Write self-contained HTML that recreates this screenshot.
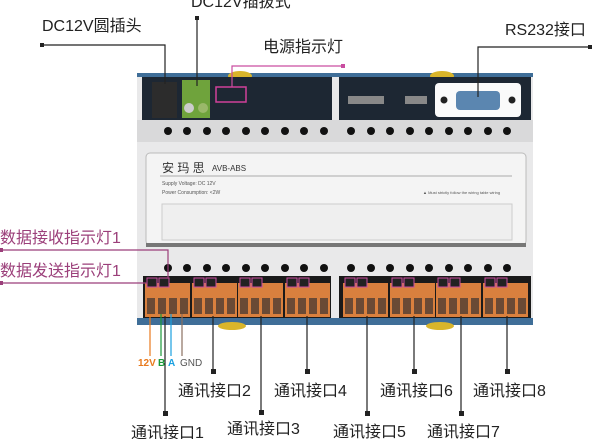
<!DOCTYPE html>
<html><head><meta charset="utf-8"><style>
html,body{margin:0;padding:0;background:#fff;width:600px;height:439px;overflow:hidden}
svg text{font-family:"Liberation Sans","Noto Sans CJK SC",sans-serif}
</style></head><body>
<svg width="600" height="439" viewBox="0 0 600 439" xmlns="http://www.w3.org/2000/svg">
<!-- device body -->
<rect x="137" y="73" width="396" height="252" fill="#e9e9ea"/>
<rect x="137" y="73" width="396" height="4" fill="#3f6e98"/>
<ellipse cx="240" cy="76" rx="12" ry="5" fill="#d9b52a"/>
<ellipse cx="442" cy="76" rx="12" ry="5" fill="#d9b52a"/>
<rect x="142" y="77" width="190" height="43" fill="#1d2733"/>
<rect x="339" y="77" width="192" height="43" fill="#1d2733"/>
<rect x="152" y="82" width="25" height="36" fill="#2c2c2c"/>
<rect x="182" y="80" width="28" height="38" fill="#6fa33c"/>
<circle cx="189" cy="108" r="5" fill="#ccc"/><circle cx="203" cy="108" r="5" fill="#9ab86a"/>
<rect x="216" y="87" width="30" height="15" fill="none" stroke="#d0409a" stroke-width="1.5"/>
<rect x="348" y="96" width="36" height="8" fill="#888"/>
<rect x="405" y="96" width="22" height="8" fill="#888"/>
<rect x="435" y="83" width="86" height="34" rx="4" fill="#fafafa"/>
<rect x="456" y="91" width="44" height="19" rx="4" fill="#5b86b0"/>
<circle cx="444" cy="100" r="3.5" fill="#222"/><circle cx="512" cy="100" r="3.5" fill="#222"/>
<rect x="137" y="120" width="396" height="22" fill="#d9d9da"/>
<g fill="#111">
<circle cx="168" cy="131" r="4"/><circle cx="187" cy="131" r="4"/><circle cx="207" cy="131" r="4"/><circle cx="226" cy="131" r="4"/><circle cx="246" cy="131" r="4"/><circle cx="265" cy="131" r="4"/><circle cx="285" cy="131" r="4"/><circle cx="304" cy="131" r="4"/><circle cx="324" cy="131" r="4"/>
<circle cx="351" cy="131" r="4"/><circle cx="371" cy="131" r="4"/><circle cx="390" cy="131" r="4"/><circle cx="410" cy="131" r="4"/><circle cx="429" cy="131" r="4"/><circle cx="449" cy="131" r="4"/><circle cx="468" cy="131" r="4"/><circle cx="488" cy="131" r="4"/><circle cx="507" cy="131" r="4"/>
</g>
<rect x="146" y="153" width="380" height="92" rx="4" fill="#f4f4f4" stroke="#bbb"/>
<rect x="146" y="243" width="380" height="4" fill="#777"/>
<text x="162" y="172" font-size="12" fill="#333">安 玛 思</text>
<text x="212" y="171" font-size="8" fill="#333">AVB-ABS</text>
<line x1="160" y1="176" x2="512" y2="176" stroke="#aaa"/>
<text x="162" y="185" font-size="5" fill="#555">Supply Voltage: DC 12V</text>
<text x="162" y="194" font-size="5" fill="#555">Power Consumption: &lt;2W</text>
<text x="423" y="194" font-size="4" fill="#555">▲ Must strictly follow the wiring table wiring</text>
<rect x="162" y="204" width="350" height="36" fill="#efefef" stroke="#ccc"/>
<g fill="#111">
<circle cx="168" cy="268" r="4"/><circle cx="187" cy="268" r="4"/><circle cx="207" cy="268" r="4"/><circle cx="226" cy="268" r="4"/><circle cx="246" cy="268" r="4"/><circle cx="265" cy="268" r="4"/><circle cx="285" cy="268" r="4"/><circle cx="304" cy="268" r="4"/><circle cx="324" cy="268" r="4"/>
<circle cx="351" cy="268" r="4"/><circle cx="371" cy="268" r="4"/><circle cx="390" cy="268" r="4"/><circle cx="410" cy="268" r="4"/><circle cx="429" cy="268" r="4"/><circle cx="449" cy="268" r="4"/><circle cx="468" cy="268" r="4"/><circle cx="488" cy="268" r="4"/><circle cx="507" cy="268" r="4"/>
</g>
<rect x="143" y="276" width="188" height="46" fill="#1a1a1a"/>
<rect x="339" y="276" width="192" height="46" fill="#1a1a1a"/>
<rect x="137" y="318" width="396" height="7" fill="#3f6e98"/>
<ellipse cx="232" cy="326" rx="14" ry="4" fill="#d9b52a"/>
<ellipse cx="440" cy="326" rx="14" ry="4" fill="#d9b52a"/>
<g id="blk">
<rect x="145" y="283" width="45" height="34" fill="#d9803e"/>
<rect x="147" y="278" width="10" height="9" fill="#222" stroke="#c94da0"/>
<rect x="159" y="278" width="10" height="9" fill="#222" stroke="#c94da0"/>
<rect x="147" y="298" width="8" height="16" fill="#6a4a35"/>
<rect x="158" y="298" width="8" height="16" fill="#6a4a35"/>
<rect x="169" y="298" width="8" height="16" fill="#6a4a35"/>
<rect x="180" y="298" width="8" height="16" fill="#6a4a35"/>
</g>
<use href="#blk" x="47"/><use href="#blk" x="93"/><use href="#blk" x="140"/>
<use href="#blk" x="198"/><use href="#blk" x="245"/><use href="#blk" x="291"/><use href="#blk" x="338"/>
<!-- callouts top -->
<g stroke="#222" stroke-width="1.2" fill="none">
<polyline points="42,45 165,45 165,84"/>
<line x1="197" y1="18" x2="197" y2="86"/>
<polyline points="590,47 478,47 478,97"/>
</g>
<rect x="40" y="43" width="4" height="4" fill="#222"/>
<rect x="195" y="16" width="4" height="4" fill="#222"/>
<rect x="588" y="45" width="4" height="4" fill="#222"/>
<polyline points="343,66 232,66 232,87" stroke="#c94da0" stroke-width="1.2" fill="none"/>
<rect x="341" y="64" width="4" height="4" fill="#c94da0"/>
<text x="42" y="31" font-size="16" fill="#222">DC12V圆插头</text>
<text x="191" y="7" font-size="16" fill="#222">DC12V插拔式</text>
<text x="263" y="52" font-size="16" fill="#222">电源指示灯</text>
<text x="505" y="35" font-size="16" fill="#222">RS232接口</text>
<!-- left callouts -->
<polyline points="0,250 168,250 168,278" stroke="#9b3f7a" stroke-width="1.2" fill="none"/>
<line x1="0" y1="283" x2="147" y2="283" stroke="#9b3f7a" stroke-width="1.2"/>
<rect x="0" y="248" width="3" height="4" fill="#9b3f7a"/><rect x="0" y="281" width="3" height="4" fill="#9b3f7a"/>
<text x="0" y="243" font-size="16" fill="#9b3f7a">数据接收指示灯1</text>
<text x="0" y="276" font-size="16" fill="#9b3f7a">数据发送指示灯1</text>
<!-- wire colors -->
<line x1="150" y1="314" x2="150" y2="356" stroke="#e87a1e" stroke-width="1.2"/>
<line x1="161" y1="314" x2="161" y2="356" stroke="#1a9a3a" stroke-width="1.2"/>
<line x1="171" y1="314" x2="171" y2="356" stroke="#1aa0e0" stroke-width="1.2"/>
<line x1="182" y1="314" x2="182" y2="356" stroke="#8a7060" stroke-width="1.2"/>
<text x="138" y="366" font-size="10" font-weight="bold" fill="#e87a1e">12V</text>
<text x="158" y="366" font-size="10" font-weight="bold" fill="#1a9a3a">B</text>
<text x="168" y="366" font-size="10" font-weight="bold" fill="#1aa0e0">A</text>
<text x="180" y="366" font-size="10" fill="#555">GND</text>
<!-- bottom callouts -->
<g stroke="#222" stroke-width="1.2">
<line x1="165" y1="316" x2="165" y2="413"/><line x1="213" y1="316" x2="213" y2="371"/>
<line x1="261" y1="316" x2="261" y2="412"/><line x1="307" y1="316" x2="307" y2="371"/>
<line x1="367" y1="316" x2="367" y2="413"/><line x1="414" y1="316" x2="414" y2="371"/>
<line x1="461" y1="316" x2="461" y2="413"/><line x1="507" y1="316" x2="507" y2="371"/>
</g>
<g fill="#222">
<rect x="163" y="411" width="5" height="5"/><rect x="211" y="369" width="5" height="5"/>
<rect x="259" y="410" width="5" height="5"/><rect x="305" y="369" width="5" height="5"/>
<rect x="365" y="411" width="5" height="5"/><rect x="412" y="369" width="5" height="5"/>
<rect x="459" y="411" width="5" height="5"/><rect x="505" y="369" width="5" height="5"/>
</g>
<g font-size="16" fill="#222">
<text x="131" y="438">通讯接口1</text><text x="178" y="396">通讯接口2</text>
<text x="227" y="434">通讯接口3</text><text x="274" y="396">通讯接口4</text>
<text x="333" y="437">通讯接口5</text><text x="380" y="396">通讯接口6</text>
<text x="427" y="437">通讯接口7</text><text x="473" y="396">通讯接口8</text>
</g>
</svg>
</body></html>
